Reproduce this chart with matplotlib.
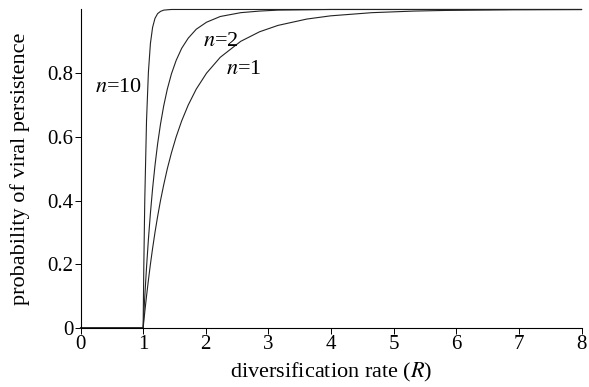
import matplotlib
matplotlib.use("Agg")
import matplotlib.pyplot as plt

# diversification rate R (shared grid)
rate = [0, 1.0, 1.0025, 1.005, 1.010, 1.026, 1.054, 1.084, 1.116, 1.151,
        1.189, 1.231, 1.277, 1.329, 1.386, 1.452, 1.527, 1.615, 1.720, 1.848,
        2.012, 2.232, 2.558, 2.859, 3.153, 3.615, 3.992, 4.652, 5.325, 5.827,
        6.915, 8.0]

# probability of viral persistence for each n
p_n1 = [0, 0, 0.005, 0.01, 0.02, 0.05, 0.10, 0.15, 0.20, 0.25,
        0.30, 0.35, 0.40, 0.45, 0.50, 0.55, 0.60, 0.65, 0.70, 0.75,
        0.80, 0.85, 0.90, 0.93, 0.95, 0.97, 0.98, 0.99, 0.995, 0.997,
        0.999, 0.9997]
p_n2 = [0, 0, 0.010, 0.020, 0.040, 0.098, 0.190, 0.278, 0.360, 0.438,
        0.510, 0.578, 0.640, 0.698, 0.750, 0.798, 0.840, 0.878, 0.910, 0.938,
        0.960, 0.978, 0.990, 0.995, 0.998, 0.999, 1.0, 1.0, 1.0, 1.0,
        1.0, 1.0]
p_n10 = [0, 0, 0.049, 0.096, 0.183, 0.401, 0.651, 0.803, 0.893, 0.944,
         0.972, 0.987, 0.994, 0.998, 0.999, 1.0, 1.0, 1.0, 1.0, 1.0,
         1.0, 1.0, 1.0, 1.0, 1.0, 1.0, 1.0, 1.0, 1.0, 1.0,
         1.0, 1.0]

curve_labels = ["$n$=1", "$n$=2", "$n$=10"]
xticks = [0, 1, 2, 3, 4, 5, 6, 7, 8]
yticks = [0, 0.2, 0.4, 0.6, 0.8]
ytick_labels = ["0", "0.2", "0.4", "0.6", "0.8"]

plt.rcParams["font.family"] = ["Liberation Serif", "DejaVu Serif"]
plt.rcParams["mathtext.fontset"] = "stix"

fig = plt.figure(figsize=(5.89, 3.87), dpi=100)
ax = fig.add_axes([0.1367, 0.1525, 0.8506, 0.8230])

for p in (p_n1, p_n2, p_n10):
    ax.plot(rate, p, color="#222222", linewidth=0.8, clip_on=False)

# curve labels
ax.text(2.33, 0.81, curve_labels[0], fontsize=16, ha="left", va="center")
ax.text(1.95, 0.90, curve_labels[1], fontsize=16, ha="left", va="center")
ax.text(0.98, 0.755, curve_labels[2], fontsize=16, ha="right", va="center")

ax.set_xlim(0, 8)
ax.set_ylim(0, 1.0)
ax.set_xticks(xticks)
ax.set_yticks(yticks)
ax.set_yticklabels(ytick_labels)
ax.tick_params(direction="out", length=4, width=0.7, labelsize=15, pad=1)

ax.spines["top"].set_visible(False)
ax.spines["right"].set_visible(False)
ax.spines["left"].set_linewidth(0.8)
ax.spines["bottom"].set_linewidth(0.8)

ax.set_xlabel("diversification rate ($R$)", fontsize=16)
ax.set_ylabel("probability of viral persistence", fontsize=16)
ax.xaxis.set_label_coords(0.5, -0.105)
ax.yaxis.set_label_coords(-0.10, 0.5)

fig.savefig("out.png", dpi=100)
